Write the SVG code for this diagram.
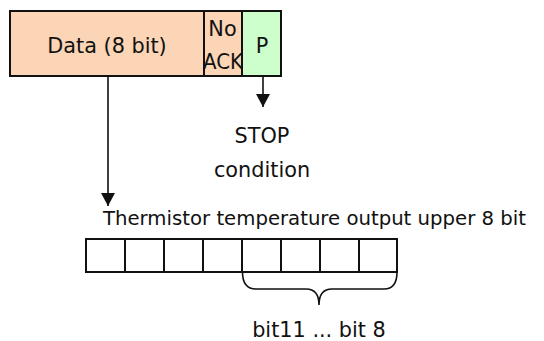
<svg xmlns="http://www.w3.org/2000/svg" width="544" height="341" viewBox="0 0 544 341">
<defs>
<style>
text{font-family:"DejaVu Sans",Verdana,sans-serif;font-size:20.8px;fill:#111}
.c{text-anchor:middle}
.box{stroke:#111;stroke-width:2}
.cell{fill:#fff;stroke:#111;stroke-width:2}
.ln{stroke:#111;stroke-width:1.6;fill:none}
</style>
<marker id="ah" markerWidth="15" markerHeight="14" refX="14" refY="7.5" orient="auto" markerUnits="userSpaceOnUse" viewBox="0 0 14 15">
<path d="M0,0 L14,7.5 L0,15 Z" fill="#111"/>
</marker>
</defs>
<g id="data"><rect class="box" x="10" y="11" width="194" height="65" fill="#FBD5B5"/><text class="c" x="107" y="53">Data (8 bit)</text></g>
<g id="noack"><rect class="box" x="204" y="11" width="38" height="65" fill="#FBD5B5"/><text class="c" x="222.5" y="36">No</text><text class="c" x="223" y="69" textLength="40" lengthAdjust="spacingAndGlyphs">ACK</text></g>
<g id="p"><rect class="box" x="242" y="11" width="39" height="65" fill="#CCFFCC"/><text class="c" x="262" y="53">P</text></g>
<g id="stop"><text class="c" x="262" y="143">STOP</text><text class="c" x="262" y="177">condition</text></g>
<g id="register">
<text x="103" y="225" style="font-size:19.7px">Thermistor temperature output upper 8 bit</text>
<rect class="cell" x="86" y="239" width="39" height="33"/>
<rect class="cell" x="125" y="239" width="39" height="33"/>
<rect class="cell" x="164" y="239" width="39" height="33"/>
<rect class="cell" x="203" y="239" width="39" height="33"/>
<rect class="cell" x="242" y="239" width="39" height="33"/>
<rect class="cell" x="281" y="239" width="39" height="33"/>
<rect class="cell" x="320" y="239" width="39" height="33"/>
<rect class="cell" x="359" y="239" width="38" height="33"/>
<path class="ln" d="M242.5,272 Q242.5,289 256,289 L306,289 Q319,289 319,305 Q319,289 332,289 L384,289 Q397,289 397,272" stroke-width="2"/>
<text class="c" x="319" y="337">bit11 ... bit 8</text>
</g>
<g id="connectors">
<line class="ln" x1="108" y1="76" x2="108" y2="206" marker-end="url(#ah)"/>
<line class="ln" x1="263" y1="76" x2="263" y2="107" marker-end="url(#ah)"/>
</g>
</svg>
